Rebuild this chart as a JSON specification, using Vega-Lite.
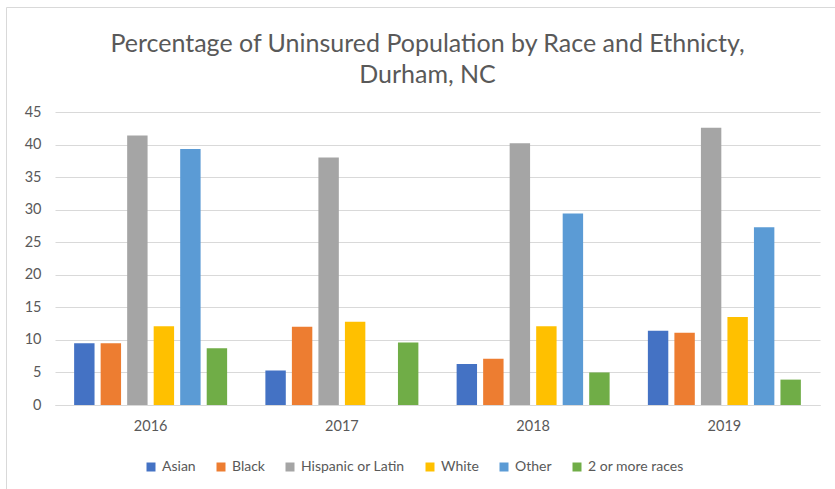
{
  "$schema": "https://vega.github.io/schema/vega-lite/v6.json",
  "width": 829,
  "height": 482,
  "autosize": {"type": "none"},
  "padding": {"left": 6, "top": 7, "right": 0, "bottom": 0},
  "background": "white",
  "title": {
    "text": ["Percentage of Uninsured Population by Race and Ethnicty,", "Durham, NC"],
    "font": "Lato",
    "fontSize": 25,
    "fontWeight": "normal",
    "color": "#595959",
    "lineHeight": 31,
    "offset": -81,
    "dx": 7
  },
  "data": {
    "values": [
      {"year": "2016", "race": "Asian", "pct": 9.5},
      {"year": "2016", "race": "Black", "pct": 9.5},
      {"year": "2016", "race": "Hispanic or Latin", "pct": 41.4},
      {"year": "2016", "race": "White", "pct": 12.1},
      {"year": "2016", "race": "Other", "pct": 39.3},
      {"year": "2016", "race": "2 or more races", "pct": 8.7},
      {"year": "2017", "race": "Asian", "pct": 5.3},
      {"year": "2017", "race": "Black", "pct": 12.0},
      {"year": "2017", "race": "Hispanic or Latin", "pct": 38.0},
      {"year": "2017", "race": "White", "pct": 12.8},
      {"year": "2017", "race": "2 or more races", "pct": 9.6},
      {"year": "2018", "race": "Asian", "pct": 6.3},
      {"year": "2018", "race": "Black", "pct": 7.1},
      {"year": "2018", "race": "Hispanic or Latin", "pct": 40.2},
      {"year": "2018", "race": "White", "pct": 12.1},
      {"year": "2018", "race": "Other", "pct": 29.4},
      {"year": "2018", "race": "2 or more races", "pct": 5.0},
      {"year": "2019", "race": "Asian", "pct": 11.4},
      {"year": "2019", "race": "Black", "pct": 11.1},
      {"year": "2019", "race": "Hispanic or Latin", "pct": 42.6},
      {"year": "2019", "race": "White", "pct": 13.5},
      {"year": "2019", "race": "Other", "pct": 27.3},
      {"year": "2019", "race": "2 or more races", "pct": 3.9}
    ]
  },
  "mark": {"type": "bar"},
  "encoding": {
    "x": {
      "field": "year",
      "type": "nominal",
      "scale": {"range": [49, 814], "paddingInner": 0.2, "paddingOuter": 0.1},
      "axis": {
        "title": null,
        "offset": -84,
        "labelAngle": 0,
        "ticks": false,
        "domainColor": "#d9d9d9",
        "labelPadding": 14,
        "labelFont": "Lato",
        "labelFontSize": 14.5,
        "labelColor": "#595959"
      }
    },
    "xOffset": {
      "field": "race",
      "type": "nominal",
      "scale": {
        "domain": ["Asian", "Black", "Hispanic or Latin", "White", "Other", "2 or more races"],
        "paddingInner": 0.23,
        "paddingOuter": 0
      }
    },
    "y": {
      "field": "pct",
      "type": "quantitative",
      "scale": {"domain": [0, 45], "range": [398, 105]},
      "axis": {
        "title": null,
        "offset": -49,
        "values": [0, 5, 10, 15, 20, 25, 30, 35, 40, 45],
        "domain": false,
        "ticks": false,
        "gridColor": "#d9d9d9",
        "labelPadding": 14,
        "labelFont": "Lato",
        "labelFontSize": 14.5,
        "labelColor": "#595959"
      }
    },
    "color": {
      "field": "race",
      "type": "nominal",
      "scale": {
        "domain": ["Asian", "Black", "Hispanic or Latin", "White", "Other", "2 or more races"],
        "range": ["#4472C4", "#ED7D31", "#A5A5A5", "#FFC000", "#5B9BD5", "#70AD47"]
      },
      "legend": {
        "title": null,
        "orient": "none",
        "legendX": 138,
        "legendY": 453,
        "direction": "horizontal",
        "symbolType": "square",
        "symbolSize": 81,
        "symbolStrokeWidth": 0,
        "labelFont": "Lato",
        "labelFontSize": 14,
        "labelColor": "#595959",
        "labelOffset": 4,
        "columnPadding": 18
      }
    }
  },
  "config": {"view": {"stroke": "#d9d9d9", "strokeWidth": 1}}
}
